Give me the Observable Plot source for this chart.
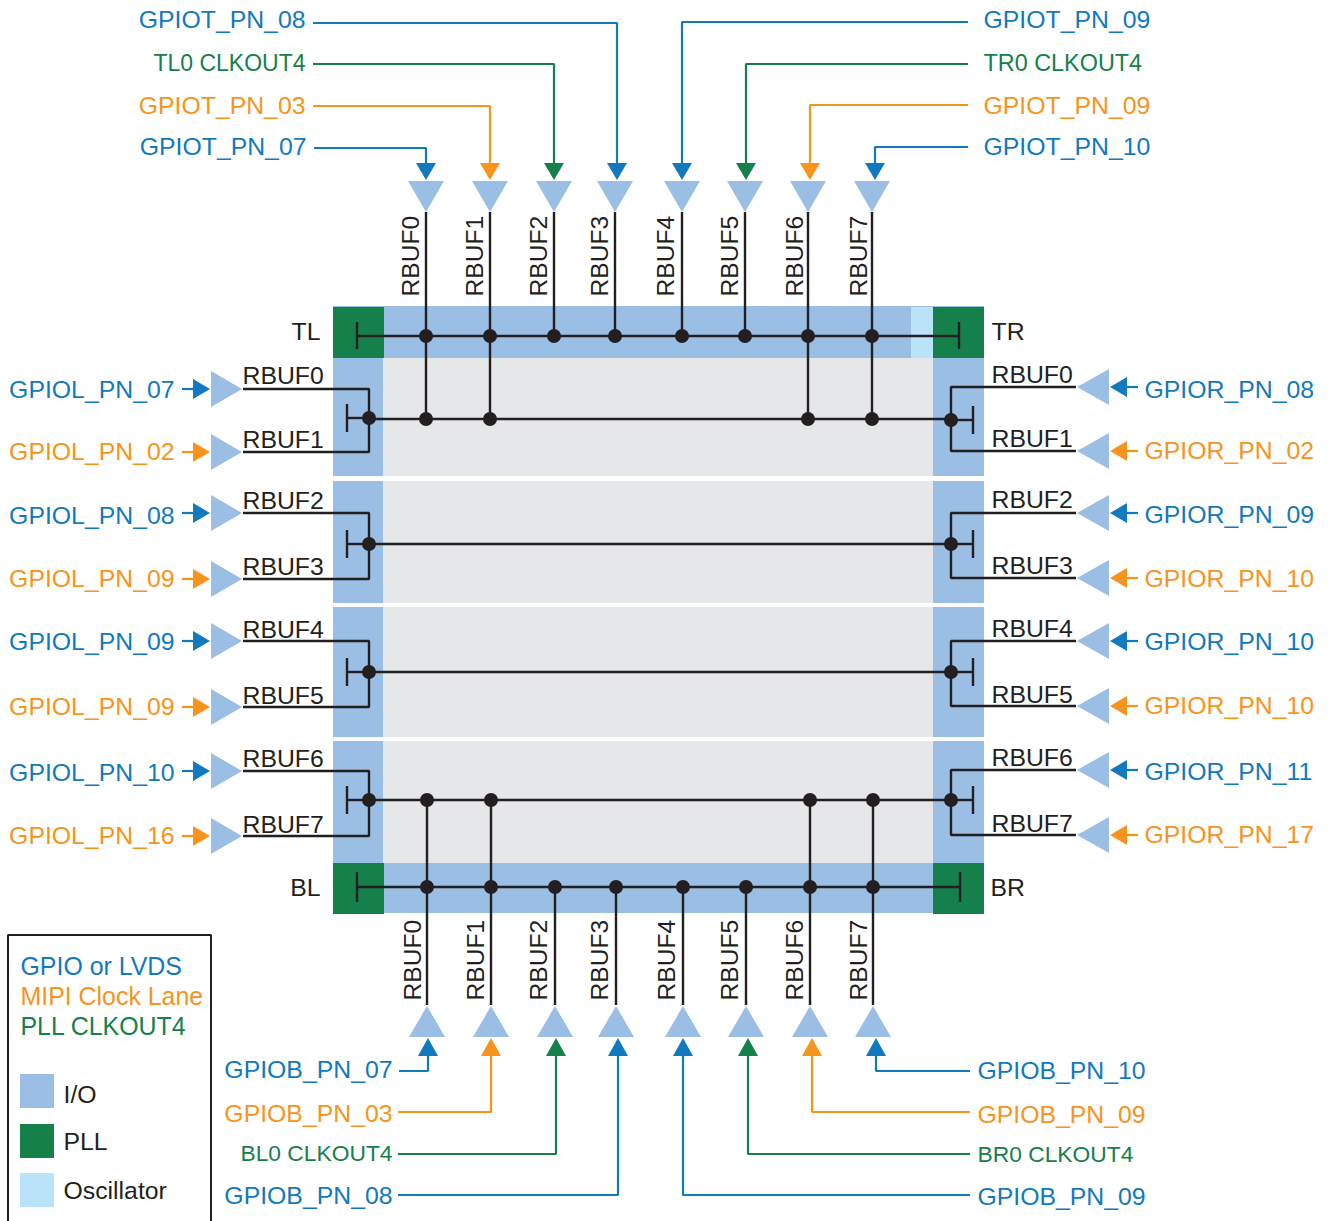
<!DOCTYPE html>
<html><head><meta charset="utf-8">
<script src="https://cdn.jsdelivr.net/npm/d3@7"></script>
<script src="https://cdn.jsdelivr.net/npm/@observablehq/plot@0.6"></script>
<style>html,body{margin:0;padding:0;background:#fff}svg{display:block}</style>
</head><body><div id="chart"></div>
<script>
const BLUE="#1279BE",ORANGE="#F7941E",GREEN="#15804A",IO="#9ABEE4",OSC="#BAE3F9",CORE="#E6E7E8",INK="#231F20";
const rowColors=[BLUE,ORANGE,BLUE,ORANGE,BLUE,ORANGE,BLUE,ORANGE];
const colColors=[BLUE,ORANGE,GREEN,BLUE,BLUE,GREEN,ORANGE,BLUE];
const bufNames=["RBUF0","RBUF1","RBUF2","RBUF3","RBUF4","RBUF5","RBUF6","RBUF7"];

// top side
const topBufX=[426,490,554,615,682,745,808,872];
const topTextX=[419,483,547,608,674,738,803,867];
const topTipX=[426,490,554,617,682,746,810,875];
const topRowY=[148,106,64,23,22,64,105,147];
const topStartX=[314,313,313,313,968,968,968,968];
const topNames=["GPIOT_PN_07","GPIOT_PN_03","TL0 CLKOUT4","GPIOT_PN_08","GPIOT_PN_09","TR0 CLKOUT4","GPIOT_PN_09","GPIOT_PN_10"];
const topLabelY=[155,114,71,28,28,71,114,155];
const topLabelX=[306,305,305,305,984,984,984,984];
const topLabelSize=[24.8,24.8,23,24.8,24.8,23.4,24.8,24.8];

// bottom side
const botBufX=[427,491,555,616,683,746,810,873];
const botTextX=[421,484,547,608,675,738,803,867];
const botTipX=[428,491,556,618,683,748,812,876];
const botRowY=[1071,1112,1154,1195,1195,1154,1112,1071];
const botStartX=[399,398,398,398,970,970,970,970];
const botNames=["GPIOB_PN_07","GPIOB_PN_03","BL0 CLKOUT4","GPIOB_PN_08","GPIOB_PN_09","BR0 CLKOUT4","GPIOB_PN_09","GPIOB_PN_10"];
const botLabelY=[1078,1122,1161,1204,1205,1162,1123,1079];
const botLabelX=[392,392,392,392,978,978,978,978];
const botLabelSize=[24.8,24.8,22.8,24.8,24.8,22.8,24.8,24.8];

// left and right sides
const leftRowY=[389,452,513,579,641,707,771,836];
const leftNames=["GPIOL_PN_07","GPIOL_PN_02","GPIOL_PN_08","GPIOL_PN_09","GPIOL_PN_09","GPIOL_PN_09","GPIOL_PN_10","GPIOL_PN_16"];
const leftLabelY=[398,460,524,587,650,715,781,844];
const leftBufY=[384,448,509,575,638,704,767,833];
const rightRowY=[387,451,513,578,641,706,770,835];
const rightNames=["GPIOR_PN_08","GPIOR_PN_02","GPIOR_PN_09","GPIOR_PN_10","GPIOR_PN_10","GPIOR_PN_10","GPIOR_PN_11","GPIOR_PN_17"];
const rightLabelY=[398,459,523,587,650,714,780,843];
const rightBufY=[383,447,508,574,637,703,766,832];
const leftHubY=[418,544,672,800];
const rightHubY=[420,544,672,800];

// regions: x1,x2,y1,y2,fill
const regionX1=[333,333,333,333,333,333,933,933,933,933,383,383,383,383,911,333,933,333,933];
const regionX2=[984,984,383,383,383,383,984,984,984,984,933,933,933,933,933,384,984,384,984];
const regionY1=[306,863,358,481,607,741,358,481,607,741,358,481,607,741,307,307,307,863,863];
const regionY2=[358,913,476,603,737,863,476,603,737,863,476,603,737,863,358,358,358,914,914];
const regionFill=[IO,IO,IO,IO,IO,IO,IO,IO,IO,IO,CORE,CORE,CORE,CORE,OSC,GREEN,GREEN,GREEN,GREEN];

// corner and side labels
const cornerNames=["TL","TR","BL","BR"];
const cornerX=[320,992,320,991];
const cornerY=[340,340,896,896];
const cornerAnchor=["end","start","end","start"];

// legend
const legendNames=["GPIO or LVDS","MIPI Clock Lane","PLL CLKOUT4"];
const legendNameColors=[BLUE,ORANGE,GREEN];
const legendNameY=[975,1005,1035];
const swatchNames=["I/O","PLL","Oscillator"];
const swatchFill=[IO,GREEN,OSC];
const swatchY1=[1074,1124,1173];
const swatchY2=[1108,1158,1207];
const swatchTextY=[1103,1150,1199];

const regions=regionX1.map((x1,i)=>({x1,x2:regionX2[i],y1:regionY1[i],y2:regionY2[i],fill:regionFill[i]}));
const swatches=swatchFill.map((fill,i)=>({x1:20,x2:54,y1:swatchY1[i],y2:swatchY2[i],fill}));

let pid=0;
function path(list,pts,c){const id=pid++;pts.forEach(([x,y])=>list.push({id,x,y,c}));}
const wires=[],feeds=[],buffers=[],heads=[],dots=[],labels=[];
const wire=(...pts)=>path(wires,pts,INK);
const dot=(x,y)=>dots.push({x,y});
const label=(text,x,y,c,anchor,size=24.8,rotate=0)=>labels.push({text,x,y,c,anchor,size,rotate});

// top
wire([357,336],[959,336]);
wire([357,322],[357,349]); wire([959,322],[959,349]);
topBufX.forEach((x,i)=>{
  const deep=[0,1,6,7].includes(i);
  wire([x,212],[x,deep?419:336]);
  dot(x,336); if(deep) dot(x,419);
  path(buffers,[[x-18,181],[x+18,181],[x,212]],IO);
  const t=topTipX[i],c=colColors[i];
  path(feeds,[[topStartX[i],topRowY[i]],[t,topRowY[i]],[t,165]],c);
  path(heads,[[t-10,163],[t+10,163],[t,180]],c);
  label(topNames[i],topLabelX[i],topLabelY[i],c,i<4?"end":"start",topLabelSize[i]);
  label(bufNames[i],topTextX[i],297,INK,"start",24.6,-90);
});
// bottom
wire([357,887],[960,887]);
wire([357,872],[357,902]); wire([960,872],[960,902]);
wire([369,800],[951,800]);
botBufX.forEach((x,i)=>{
  const deep=[0,1,6,7].includes(i);
  wire([x,deep?800:887],[x,1005]);
  dot(x,887); if(deep) dot(x,800);
  path(buffers,[[x-18,1037],[x+18,1037],[x,1006]],IO);
  const t=botTipX[i],c=colColors[i];
  path(feeds,[[botStartX[i],botRowY[i]],[t,botRowY[i]],[t,1054]],c);
  path(heads,[[t-10,1056],[t+10,1056],[t,1038]],c);
  label(botNames[i],botLabelX[i],botLabelY[i],c,i<4?"end":"start",botLabelSize[i]);
  label(bufNames[i],botTextX[i],1001,INK,"start",24.6,-90);
});
// left
leftRowY.forEach((y,i)=>{
  const c=rowColors[i];
  path(buffers,[[211,y-18],[211,y+18],[242,y]],IO);
  path(feeds,[[182,y],[196,y]],c);
  path(heads,[[193,y-10],[193,y+10],[210,y]],c);
  label(leftNames[i],174,leftLabelY[i],c,"end");
  label(bufNames[i],243,leftBufY[i],INK,"start");
});
leftHubY.forEach((y,k)=>{
  const a=leftRowY[2*k],b=leftRowY[2*k+1];
  wire([243,a],[369,a],[369,b],[243,b]);
  wire([347,y],[369,y]); wire([347,y-14],[347,y+14]);
  dot(369,y);
});
// right
rightRowY.forEach((y,i)=>{
  const c=rowColors[i];
  path(buffers,[[1109,y-18],[1109,y+18],[1077,y]],IO);
  path(feeds,[[1125,y],[1138,y]],c);
  path(heads,[[1127,y-10],[1127,y+10],[1110,y]],c);
  label(rightNames[i],1145,rightLabelY[i],c,"start");
  label(bufNames[i],992,rightBufY[i],INK,"start");
});
rightHubY.forEach((y,k)=>{
  const a=rightRowY[2*k],b=rightRowY[2*k+1];
  wire([1076,a],[951,a],[951,b],[1076,b]);
  wire([951,y],[973,y]); wire([973,y-14],[973,y+14]);
  dot(951,y);
});
// core wires
wire([369,419],[951,419]); wire([369,544],[951,544]); wire([369,672],[951,672]);
// corners
cornerNames.forEach((n,i)=>label(n,cornerX[i],cornerY[i],INK,cornerAnchor[i]));
// legend
legendNames.forEach((n,i)=>label(n,21,legendNameY[i],legendNameColors[i],"start",24.9));
swatchNames.forEach((n,i)=>label(n,64,swatchTextY[i],INK,"start",24.8));
const legendBox=[];
path(legendBox,[[8,1221],[8,935],[211,935],[211,1221]],INK);

const nudge={dx:-0.5,dy:-0.5};
const textMark=(data,anchor,dx)=>Plot.text(data,{x:"x",y:"y",text:"text",fill:"c",fontSize:"size",rotate:"rotate",textAnchor:anchor,lineAnchor:"bottom",dx,dy:-1});

const fig=Plot.plot({
  width:1332,height:1221,margin:0,
  x:{domain:[0,1332],range:[0,1332],axis:null},
  y:{domain:[0,1221],range:[0,1221],axis:null},
  color:{type:"identity"},
  style:{fontFamily:"'Liberation Sans',Arial,sans-serif",background:"#fff"},
  marks:[
    Plot.rect(regions,{x1:"x1",x2:"x2",y1:"y1",y2:"y2",fill:"fill"}),
    Plot.rect(swatches,{x1:"x1",x2:"x2",y1:"y1",y2:"y2",fill:"fill"}),
    Plot.line(legendBox,{x:"x",y:"y",z:"id",stroke:INK,strokeWidth:2,strokeLinejoin:"miter",...nudge}),
    Plot.line(buffers,{x:"x",y:"y",z:"id",fill:IO,stroke:"none",curve:"linear-closed",...nudge}),
    Plot.line(wires,{x:"x",y:"y",z:"id",stroke:INK,strokeWidth:2.4,strokeLinejoin:"miter",strokeLinecap:"butt",...nudge}),
    Plot.line(feeds,{x:"x",y:"y",z:"id",stroke:"c",strokeWidth:2.2,strokeLinejoin:"miter",strokeLinecap:"butt",...nudge}),
    Plot.line(heads,{x:"x",y:"y",z:"id",fill:"c",stroke:"none",curve:"linear-closed",...nudge}),
    Plot.dot(dots,{x:"x",y:"y",r:7,fill:INK,stroke:"none",...nudge}),
    textMark(labels.filter(d=>d.anchor==="start"),"start",-1),
    textMark(labels.filter(d=>d.anchor==="end"),"end",0)
  ]
});
document.getElementById("chart").append(fig);
</script></body></html>
